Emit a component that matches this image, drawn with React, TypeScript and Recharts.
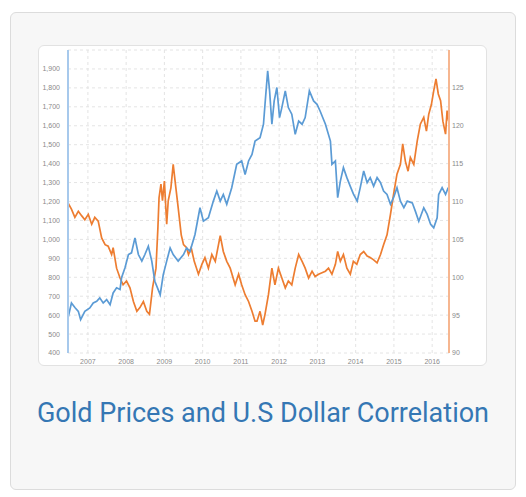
import React from "react";
import { LineChart, Line, XAxis, YAxis, CartesianGrid } from "recharts";

// Gold price (USD / oz) — dates as decimal years
const goldDates = [
  2006.48, 2006.57, 2006.66, 2006.75, 2006.81, 2006.92, 2007.05, 2007.14, 2007.23, 2007.31,
  2007.40, 2007.49, 2007.58, 2007.66, 2007.75, 2007.84, 2007.88, 2007.97, 2008.06, 2008.14,
  2008.23, 2008.32, 2008.41, 2008.49, 2008.58, 2008.67, 2008.75, 2008.89, 2008.97, 2009.06,
  2009.15, 2009.23, 2009.36, 2009.50, 2009.58, 2009.67, 2009.80, 2009.93, 2010.02, 2010.15,
  2010.28, 2010.37, 2010.46, 2010.54, 2010.63, 2010.76, 2010.89, 2011.02, 2011.11, 2011.20,
  2011.29, 2011.37, 2011.50, 2011.59, 2011.63, 2011.70, 2011.75, 2011.81, 2011.87, 2011.94,
  2012.01, 2012.07, 2012.16, 2012.24, 2012.33, 2012.42, 2012.51, 2012.60, 2012.68, 2012.79,
  2012.90, 2012.99, 2013.07, 2013.21, 2013.34, 2013.38, 2013.47, 2013.53, 2013.60, 2013.68,
  2013.77, 2013.86, 2013.94, 2014.04, 2014.12, 2014.21, 2014.30, 2014.38, 2014.47, 2014.56,
  2014.65, 2014.73, 2014.82, 2014.91, 2014.99, 2015.08, 2015.17, 2015.26, 2015.35, 2015.48,
  2015.56, 2015.65, 2015.78, 2015.87, 2015.96, 2016.04, 2016.13, 2016.17, 2016.26, 2016.35,
  2016.42,
];
const goldPrices = [
  585, 664, 640, 620, 576, 620, 638, 664, 673, 691,
  664, 682, 655, 717, 744, 735, 797, 850, 920, 929,
  1008, 920, 885, 920, 964, 885, 779, 708, 814, 885,
  955, 920, 885, 920, 955, 937, 1026, 1167, 1096, 1114,
  1202, 1255, 1202, 1237, 1185, 1273, 1396, 1414, 1343, 1414,
  1449, 1519, 1537, 1608, 1713, 1890, 1784, 1608, 1731, 1802,
  1643, 1696, 1784, 1696, 1661, 1555, 1625, 1608, 1643, 1784,
  1731, 1713, 1678, 1608, 1519, 1396, 1414, 1220, 1308, 1379,
  1326, 1280, 1240, 1202, 1273, 1361, 1299, 1326, 1281, 1326,
  1299, 1255, 1237, 1185, 1220, 1273, 1202, 1167, 1202, 1193,
  1149, 1096, 1167, 1132, 1079, 1061, 1114, 1237, 1273, 1237,
  1273,
];

// U.S. dollar index — dates as decimal years
const usdDates = [
  2006.48, 2006.57, 2006.66, 2006.75, 2006.84, 2006.92, 2007.01, 2007.10, 2007.18, 2007.27,
  2007.36, 2007.45, 2007.53, 2007.62, 2007.66, 2007.75, 2007.84, 2007.92, 2008.01, 2008.10,
  2008.19, 2008.28, 2008.36, 2008.45, 2008.54, 2008.61, 2008.69, 2008.78, 2008.83, 2008.86,
  2008.91, 2008.95, 2009.00, 2009.06, 2009.10, 2009.17, 2009.23, 2009.30, 2009.36, 2009.44,
  2009.50, 2009.58, 2009.63, 2009.70, 2009.78, 2009.89, 2009.98, 2010.06, 2010.15, 2010.24,
  2010.33, 2010.46, 2010.54, 2010.63, 2010.72, 2010.85, 2010.94, 2011.02, 2011.11, 2011.20,
  2011.29, 2011.37, 2011.42, 2011.50, 2011.57, 2011.63, 2011.72, 2011.81, 2011.89, 2011.98,
  2012.07, 2012.16, 2012.24, 2012.33, 2012.42, 2012.51, 2012.60, 2012.68, 2012.77, 2012.86,
  2012.94, 2013.03, 2013.12, 2013.21, 2013.29, 2013.38, 2013.47, 2013.53, 2013.60, 2013.68,
  2013.77, 2013.86, 2013.94, 2014.03, 2014.12, 2014.21, 2014.30, 2014.38, 2014.47, 2014.56,
  2014.65, 2014.73, 2014.82, 2014.91, 2014.99, 2015.08, 2015.17, 2015.23, 2015.30, 2015.37,
  2015.43, 2015.52, 2015.61, 2015.69, 2015.78, 2015.85, 2015.91, 2015.98, 2016.04, 2016.10,
  2016.16, 2016.22, 2016.28, 2016.35, 2016.39, 2016.43,
];
const usdIndex = [
  109.8, 109.0, 107.9, 108.7, 108.1, 107.6, 108.3, 107.0, 107.9, 107.4,
  105.2, 104.3, 104.1, 103.0, 103.9, 101.2, 99.9, 99.0, 99.5, 98.6,
  96.8, 95.5, 96.0, 96.8, 95.5, 95.1, 98.6, 101.2, 106.5, 110.5,
  112.3, 110.1, 112.7, 107.0, 110.1, 111.8, 114.9, 111.8, 109.2, 105.6,
  104.3, 103.9, 103.0, 103.9, 102.1, 100.4, 101.7, 102.6, 101.2, 103.0,
  102.1, 105.5, 103.4, 102.1, 101.2, 99.0, 100.4, 99.0, 97.7, 96.8,
  95.5, 94.2, 94.2, 95.5, 93.7, 95.1, 97.7, 101.2, 99.0, 101.2,
  99.9, 98.6, 99.5, 99.0, 101.2, 103.0, 102.1, 101.2, 99.9, 100.8,
  100.1, 100.4, 100.6, 100.8, 101.2, 100.4, 101.7, 103.4, 102.1, 103.0,
  101.2, 100.4, 102.1, 101.7, 103.0, 103.4, 102.8, 102.6, 102.3, 101.9,
  103.0, 104.3, 105.6, 108.3, 110.9, 113.6, 114.9, 117.6, 115.3, 114.0,
  115.8, 114.9, 118.0, 120.2, 121.1, 119.3, 121.5, 122.8, 124.6, 126.2,
  124.2, 123.3, 120.6, 118.9, 122.0, 120.6,
];

const yearTicks = [2007, 2008, 2009, 2010, 2011, 2012, 2013, 2014, 2015, 2016];
const goldTicks = [400, 500, 600, 700, 800, 900, 1000, 1100, 1200, 1300, 1400, 1500, 1600, 1700, 1800, 1900, 2000];
const usdTicks = [90, 95, 100, 105, 110, 115, 120, 125];
const chartTitle = "Gold Prices and U.S Dollar Correlation";

function buildRows() {
  const map = new Map<number, any>();
  goldDates.forEach((t, i) => {
    const r = map.get(t) ?? { t };
    r.gold = goldPrices[i];
    map.set(t, r);
  });
  usdDates.forEach((t, i) => {
    const r = map.get(t) ?? { t };
    r.usd = usdIndex[i];
    map.set(t, r);
  });
  return Array.from(map.values()).sort((a, b) => a.t - b.t);
}

const rows = buildRows();

const tickStyle = { fontSize: 7, fill: "#8a8a8a", fontFamily: "'Liberation Sans', Arial, sans-serif" };

export default function App() {
  return (
    <div>
      <div
        style={{
          position: "absolute",
          left: 10,
          top: 12,
          width: 506,
          height: 478,
          boxSizing: "border-box",
          background: "#f7f7f7",
          border: "1px solid #dcdcdc",
          borderRadius: 6,
        }}
      />
      <div
        style={{
          position: "absolute",
          left: 38,
          top: 45,
          width: 449,
          height: 321,
          boxSizing: "border-box",
          background: "#ffffff",
          border: "1px solid #e2e2e2",
          borderRadius: 6,
        }}
      />
      <div style={{ position: "absolute", left: 38, top: 45 }}>
        <LineChart width={449} height={321} data={rows} margin={{ top: 5, right: 8, bottom: 0, left: 0 }}>
          <CartesianGrid
            yAxisId="gold"
            stroke="#e4e4e4"
            strokeDasharray="3 3"
          />
          <XAxis
            dataKey="t"
            type="number"
            domain={[2006.48, 2016.44]}
            allowDataOverflow
            ticks={yearTicks}
            tickFormatter={(v: number) => String(v)}
            axisLine={false}
            tickLine={false}
            tickSize={0}
            tickMargin={6}
            height={13}
            tick={tickStyle}
            interval={0}
          />
          <YAxis
            yAxisId="gold"
            orientation="left"
            width={30}
            domain={[400, 2000]}
            ticks={goldTicks}
            allowDataOverflow
            interval={0}
            tickFormatter={(v: number) => (v === 2000 ? "" : v.toLocaleString("en-US"))}
            axisLine={{ stroke: "#a7c9ec", strokeWidth: 2 }}
            tickLine={false}
            tickSize={0}
            tickMargin={8}
            tick={tickStyle}
          />
          <YAxis
            yAxisId="usd"
            orientation="right"
            width={30}
            domain={[90, 130]}
            ticks={usdTicks}
            allowDataOverflow
            interval={0}
            axisLine={{ stroke: "#f6b690", strokeWidth: 2 }}
            tickLine={false}
            tickSize={0}
            tickMargin={3}
            tick={tickStyle}
          />
          <Line
            yAxisId="usd"
            dataKey="usd"
            type="linear"
            stroke="#ed7d31"
            strokeWidth={1.7}
            dot={false}
            connectNulls
            isAnimationActive={false}
          />
          <Line
            yAxisId="gold"
            dataKey="gold"
            type="linear"
            stroke="#5b9bd5"
            strokeWidth={1.7}
            dot={false}
            connectNulls
            isAnimationActive={false}
          />
        </LineChart>
      </div>
      <div
        style={{
          position: "absolute",
          left: 10,
          width: 506,
          top: 396,
          textAlign: "center",
          fontFamily: "Roboto, sans-serif",
          fontSize: 27,
          lineHeight: "34px",
          color: "#3577b4",
        }}
      >
        {chartTitle}
      </div>
    </div>
  );
}
